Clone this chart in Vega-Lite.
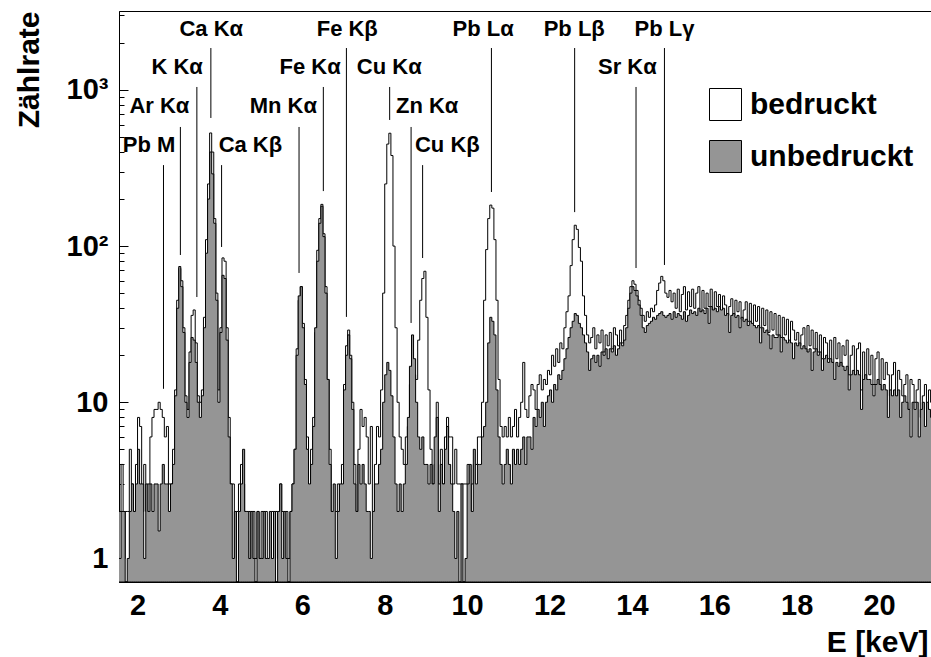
{
"$schema": "https://vega.github.io/schema/vega-lite/v6.json",
"width": 812, "height": 571,
"autosize": "none",
"padding": {"left": 119, "top": 11, "right": 0, "bottom": 75},
"background": "white",
"config": {
 "view": {"stroke": "black", "strokeWidth": 1},
 "font": "Liberation Sans",
 "axis": {"labelFont": "Liberation Sans", "labelFontWeight": "bold", "labelFontSize": 29, "labelColor": "black",
  "titleFont": "Liberation Sans", "titleFontWeight": "bold", "titleFontSize": 30, "titleColor": "black",
  "domainColor": "black", "tickColor": "black", "grid": false, "labelOverlap": false, "labelFlush": false, "labelBound": false}
},
"datasets": {
"spec": [
{"e":1.5,"b":3,"u":4},{"e":1.55,"b":2,"u":1},{"e":1.6,"b":4,"u":2},{"e":1.65,"b":1,"u":2},{"e":1.7,"b":2,"u":0},{"e":1.75,"b":2,"u":1},{"e":1.8,"b":5,"u":2},{"e":1.85,"b":3,"u":3},{"e":1.9,"b":2,"u":2},{"e":1.95,"b":4,"u":3},
{"e":2.0,"b":8,"u":5},{"e":2.05,"b":7,"u":3},{"e":2.1,"b":2,"u":3},{"e":2.15,"b":4,"u":1},{"e":2.2,"b":2,"u":3},{"e":2.25,"b":3,"u":2},{"e":2.3,"b":6,"u":3},{"e":2.35,"b":8,"u":2},{"e":2.4,"b":9,"u":3},{"e":2.45,"b":9,"u":3},
{"e":2.5,"b":10,"u":1.5},{"e":2.55,"b":9,"u":3},{"e":2.6,"b":8,"u":4},{"e":2.65,"b":6,"u":3},{"e":2.7,"b":7,"u":3},{"e":2.75,"b":3,"u":2},{"e":2.8,"b":3,"u":3},{"e":2.85,"b":5,"u":4},{"e":2.9,"b":12,"u":11},{"e":2.95,"b":45,"u":40},
{"e":3.0,"b":72,"u":74},{"e":3.05,"b":60,"u":55},{"e":3.1,"b":30,"u":28},{"e":3.15,"b":11,"u":10},{"e":3.2,"b":9,"u":8},{"e":3.25,"b":21,"u":18},{"e":3.3,"b":36,"u":26},{"e":3.35,"b":39,"u":25},{"e":3.4,"b":24,"u":18},{"e":3.45,"b":11,"u":10},
{"e":3.5,"b":10,"u":8},{"e":3.55,"b":12,"u":11},{"e":3.6,"b":35,"u":30},{"e":3.65,"b":110,"u":90},{"e":3.7,"b":250,"u":200},{"e":3.75,"b":530,"u":400},{"e":3.8,"b":400,"u":290},{"e":3.85,"b":150,"u":140},{"e":3.9,"b":50,"u":45},{"e":3.95,"b":12,"u":10},
{"e":4.0,"b":30,"u":28},{"e":4.05,"b":84,"u":65},{"e":4.1,"b":80,"u":62},{"e":4.15,"b":30,"u":25},{"e":4.2,"b":8,"u":6},{"e":4.25,"b":3,"u":3},{"e":4.3,"b":3,"u":1},{"e":4.35,"b":1,"u":2},{"e":4.4,"b":2,"u":0},{"e":4.45,"b":3,"u":2},
{"e":4.5,"b":4,"u":3},{"e":4.55,"b":3,"u":5},{"e":4.6,"b":2,"u":2},{"e":4.65,"b":1,"u":2},{"e":4.7,"b":2,"u":1},{"e":4.75,"b":1,"u":2},{"e":4.8,"b":2,"u":1},{"e":4.85,"b":1,"u":0},{"e":4.9,"b":2,"u":2},{"e":4.95,"b":1,"u":1},
{"e":5.0,"b":2,"u":1},{"e":5.05,"b":1,"u":2},{"e":5.1,"b":2,"u":1},{"e":5.15,"b":1,"u":1},{"e":5.2,"b":0,"u":2},{"e":5.25,"b":2,"u":1},{"e":5.3,"b":1,"u":2},{"e":5.35,"b":2,"u":0},{"e":5.4,"b":1,"u":2},{"e":5.45,"b":3,"u":3},
{"e":5.5,"b":2,"u":1},{"e":5.55,"b":1,"u":2},{"e":5.6,"b":2,"u":1},{"e":5.65,"b":1,"u":0},{"e":5.7,"b":2,"u":2},{"e":5.75,"b":3,"u":3},{"e":5.8,"b":5,"u":5},{"e":5.85,"b":22,"u":20},{"e":5.9,"b":45,"u":48},{"e":5.95,"b":55,"u":55},
{"e":6.0,"b":32,"u":30},{"e":6.05,"b":14,"u":13},{"e":6.1,"b":6,"u":5},{"e":6.15,"b":2,"u":3},{"e":6.2,"b":5,"u":4},{"e":6.25,"b":8,"u":7},{"e":6.3,"b":28,"u":30},{"e":6.35,"b":94,"u":80},{"e":6.4,"b":150,"u":140},{"e":6.45,"b":185,"u":180},
{"e":6.5,"b":120,"u":115},{"e":6.55,"b":55,"u":50},{"e":6.6,"b":14,"u":14},{"e":6.65,"b":5,"u":4},{"e":6.7,"b":2,"u":2},{"e":6.75,"b":2,"u":3},{"e":6.8,"b":2,"u":1},{"e":6.85,"b":3,"u":2},{"e":6.9,"b":2,"u":3},{"e":6.95,"b":4,"u":3},
{"e":7.0,"b":13,"u":12},{"e":7.05,"b":23,"u":20},{"e":7.1,"b":29,"u":27},{"e":7.15,"b":20,"u":19},{"e":7.2,"b":10,"u":9},{"e":7.25,"b":4,"u":3},{"e":7.3,"b":2,"u":2},{"e":7.35,"b":5,"u":4},{"e":7.4,"b":9,"u":3},{"e":7.45,"b":7,"u":4},
{"e":7.5,"b":8,"u":3},{"e":7.55,"b":6,"u":2},{"e":7.6,"b":3,"u":2},{"e":7.65,"b":7,"u":1},{"e":7.7,"b":2,"u":2},{"e":7.75,"b":4,"u":3},{"e":7.8,"b":7,"u":3},{"e":7.85,"b":6,"u":4},{"e":7.9,"b":12,"u":5},{"e":7.95,"b":50,"u":10},
{"e":8.0,"b":250,"u":15},{"e":8.05,"b":450,"u":18},{"e":8.1,"b":528,"u":16},{"e":8.15,"b":380,"u":11},{"e":8.2,"b":100,"u":6},{"e":8.25,"b":30,"u":3},{"e":8.3,"b":10,"u":2},{"e":8.35,"b":6,"u":3},{"e":8.4,"b":5,"u":2},{"e":8.45,"b":4,"u":3},
{"e":8.5,"b":6,"u":4},{"e":8.55,"b":7,"u":8},{"e":8.6,"b":13,"u":17},{"e":8.65,"b":19,"u":27},{"e":8.7,"b":15,"u":19},{"e":8.75,"b":14,"u":10},{"e":8.8,"b":25,"u":6},{"e":8.85,"b":45,"u":5},{"e":8.9,"b":62,"u":6},{"e":8.95,"b":69,"u":4},
{"e":9.0,"b":35,"u":4},{"e":9.05,"b":12,"u":3},{"e":9.1,"b":5,"u":4},{"e":9.15,"b":3,"u":3},{"e":9.2,"b":4,"u":6},{"e":9.25,"b":10,"u":8},{"e":9.3,"b":3,"u":2},{"e":9.35,"b":5,"u":4},{"e":9.4,"b":3,"u":3},{"e":9.45,"b":6,"u":5},
{"e":9.5,"b":8,"u":7},{"e":9.55,"b":6,"u":4},{"e":9.6,"b":6,"u":3},{"e":9.65,"b":3,"u":2},{"e":9.7,"b":5,"u":1},{"e":9.75,"b":3,"u":2},{"e":9.8,"b":3,"u":0},{"e":9.85,"b":3,"u":3},{"e":9.9,"b":3,"u":0},{"e":9.95,"b":3,"u":1},
{"e":10.0,"b":4,"u":3},{"e":10.05,"b":2,"u":4},{"e":10.1,"b":3,"u":2},{"e":10.15,"b":4,"u":5},{"e":10.2,"b":4,"u":3},{"e":10.25,"b":6,"u":4},{"e":10.3,"b":6,"u":4},{"e":10.35,"b":10,"u":6},{"e":10.4,"b":45,"u":7},{"e":10.45,"b":95,"u":10},
{"e":10.5,"b":150,"u":24},{"e":10.55,"b":183,"u":35},{"e":10.6,"b":175,"u":33},{"e":10.65,"b":110,"u":27},{"e":10.7,"b":45,"u":12},{"e":10.75,"b":14,"u":6},{"e":10.8,"b":7,"u":4},{"e":10.85,"b":6,"u":3},{"e":10.9,"b":7,"u":4},{"e":10.95,"b":6,"u":5},
{"e":11.0,"b":8,"u":4},{"e":11.05,"b":6,"u":3},{"e":11.1,"b":7,"u":5},{"e":11.15,"b":9,"u":4},{"e":11.2,"b":6,"u":5},{"e":11.25,"b":8,"u":4},{"e":11.3,"b":10,"u":5},{"e":11.35,"b":18,"u":6},{"e":11.4,"b":9,"u":4},{"e":11.45,"b":8,"u":6},
{"e":11.5,"b":11,"u":6},{"e":11.55,"b":13,"u":5},{"e":11.6,"b":12,"u":8},{"e":11.65,"b":9,"u":7},{"e":11.7,"b":13,"u":9},{"e":11.75,"b":15,"u":8},{"e":11.8,"b":12,"u":10},{"e":11.85,"b":14,"u":7},{"e":11.9,"b":13,"u":10},{"e":11.95,"b":16,"u":11},
{"e":12.0,"b":15,"u":12},{"e":12.05,"b":20,"u":10},{"e":12.1,"b":17,"u":13},{"e":12.15,"b":22,"u":12},{"e":12.2,"b":18,"u":15},{"e":12.25,"b":24,"u":14},{"e":12.3,"b":22,"u":16},{"e":12.35,"b":30,"u":19},{"e":12.4,"b":38,"u":22},{"e":12.45,"b":48,"u":26},
{"e":12.5,"b":75,"u":30},{"e":12.55,"b":110,"u":33},{"e":12.6,"b":136,"u":37},{"e":12.65,"b":128,"u":36},{"e":12.7,"b":98,"u":32},{"e":12.75,"b":80,"u":30},{"e":12.8,"b":48,"u":27},{"e":12.85,"b":36,"u":24},{"e":12.9,"b":27,"u":21},{"e":12.95,"b":24,"u":16},
{"e":13.0,"b":26,"u":19},{"e":13.05,"b":30,"u":20},{"e":13.1,"b":22,"u":18},{"e":13.15,"b":27,"u":20},{"e":13.2,"b":24,"u":17},{"e":13.25,"b":29,"u":21},{"e":13.3,"b":21,"u":20},{"e":13.35,"b":27,"u":22},{"e":13.4,"b":23,"u":19},{"e":13.45,"b":28,"u":22},
{"e":13.5,"b":22,"u":21},{"e":13.55,"b":30,"u":23},{"e":13.6,"b":27,"u":20},{"e":13.65,"b":23,"u":22},{"e":13.7,"b":29,"u":24},{"e":13.75,"b":24,"u":23},{"e":13.8,"b":31,"u":25},{"e":13.85,"b":36,"u":30},{"e":13.9,"b":45,"u":40},{"e":13.95,"b":55,"u":50},
{"e":14.0,"b":60,"u":55},{"e":14.05,"b":57,"u":52},{"e":14.1,"b":52,"u":48},{"e":14.15,"b":45,"u":42},{"e":14.2,"b":40,"u":36},{"e":14.25,"b":36,"u":30},{"e":14.3,"b":33,"u":28},{"e":14.35,"b":38,"u":31},{"e":14.4,"b":35,"u":32},{"e":14.45,"b":40,"u":33},
{"e":14.5,"b":38,"u":35},{"e":14.55,"b":42,"u":34},{"e":14.6,"b":52,"u":36},{"e":14.65,"b":58,"u":37},{"e":14.7,"b":64,"u":38},{"e":14.75,"b":60,"u":36},{"e":14.8,"b":50,"u":35},{"e":14.85,"b":47,"u":36},{"e":14.9,"b":52,"u":37},{"e":14.95,"b":44,"u":34},
{"e":15.0,"b":50,"u":38},{"e":15.05,"b":40,"u":35},{"e":15.1,"b":53,"u":37},{"e":15.15,"b":38,"u":36},{"e":15.2,"b":49,"u":34},{"e":15.25,"b":55,"u":38},{"e":15.3,"b":39,"u":33},{"e":15.35,"b":51,"u":36},{"e":15.4,"b":41,"u":39},{"e":15.45,"b":53,"u":37},
{"e":15.5,"b":40,"u":38},{"e":15.55,"b":50,"u":36},{"e":15.6,"b":55,"u":40},{"e":15.65,"b":37,"u":38},{"e":15.7,"b":52,"u":39},{"e":15.75,"b":40,"u":37},{"e":15.8,"b":50,"u":40},{"e":15.85,"b":41,"u":32},{"e":15.9,"b":53,"u":41},{"e":15.95,"b":38,"u":39},
{"e":16.0,"b":51,"u":40},{"e":16.05,"b":41,"u":38},{"e":16.1,"b":49,"u":41},{"e":16.15,"b":38,"u":39},{"e":16.2,"b":48,"u":40},{"e":16.25,"b":42,"u":36},{"e":16.3,"b":36,"u":37},{"e":16.35,"b":41,"u":28},{"e":16.4,"b":46,"u":36},{"e":16.45,"b":36,"u":37},
{"e":16.5,"b":45,"u":35},{"e":16.55,"b":38,"u":36},{"e":16.6,"b":44,"u":30},{"e":16.65,"b":34,"u":35},{"e":16.7,"b":39,"u":33},{"e":16.75,"b":44,"u":34},{"e":16.8,"b":33,"u":31},{"e":16.85,"b":43,"u":33},{"e":16.9,"b":31,"u":32},{"e":16.95,"b":42,"u":31},
{"e":17.0,"b":33,"u":30},{"e":17.05,"b":41,"u":31},{"e":17.1,"b":30,"u":24},{"e":17.15,"b":40,"u":30},{"e":17.2,"b":31,"u":28},{"e":17.25,"b":39,"u":29},{"e":17.3,"b":28,"u":27},{"e":17.35,"b":38,"u":22},{"e":17.4,"b":29,"u":27},{"e":17.45,"b":37,"u":26},
{"e":17.5,"b":27,"u":26},{"e":17.55,"b":36,"u":27},{"e":17.6,"b":26,"u":21},{"e":17.65,"b":35,"u":26},{"e":17.7,"b":27,"u":25},{"e":17.75,"b":34,"u":24},{"e":17.8,"b":24,"u":25},{"e":17.85,"b":33,"u":24},{"e":17.9,"b":29,"u":19},{"e":17.95,"b":25,"u":24},
{"e":18.0,"b":28,"u":23},{"e":18.05,"b":23,"u":24},{"e":18.1,"b":27,"u":22},{"e":18.15,"b":30,"u":23},{"e":18.2,"b":21,"u":22},{"e":18.25,"b":31,"u":21},{"e":18.3,"b":23,"u":22},{"e":18.35,"b":29,"u":16},{"e":18.4,"b":22,"u":21},{"e":18.45,"b":28,"u":22},
{"e":18.5,"b":21,"u":20},{"e":18.55,"b":27,"u":21},{"e":18.6,"b":19,"u":16},{"e":18.65,"b":26,"u":19},{"e":18.7,"b":24,"u":20},{"e":18.75,"b":19,"u":18},{"e":18.8,"b":25,"u":19},{"e":18.85,"b":18,"u":18},{"e":18.9,"b":26,"u":14},{"e":18.95,"b":19,"u":18},
{"e":19.0,"b":24,"u":17},{"e":19.05,"b":17,"u":18},{"e":19.1,"b":23,"u":17},{"e":19.15,"b":20,"u":16},{"e":19.2,"b":25,"u":17},{"e":19.25,"b":15,"u":12},{"e":19.3,"b":20,"u":15},{"e":19.35,"b":23,"u":16},{"e":19.4,"b":14,"u":15},{"e":19.45,"b":22,"u":16},
{"e":19.5,"b":24,"u":15},{"e":19.55,"b":12,"u":9},{"e":19.6,"b":21,"u":14},{"e":19.65,"b":14,"u":15},{"e":19.7,"b":22,"u":14},{"e":19.75,"b":15,"u":14},{"e":19.8,"b":20,"u":13},{"e":19.85,"b":13,"u":11},{"e":19.9,"b":19,"u":13},{"e":19.95,"b":21,"u":14},
{"e":20.0,"b":12,"u":13},{"e":20.05,"b":19,"u":12},{"e":20.1,"b":14,"u":13},{"e":20.15,"b":18,"u":12},{"e":20.2,"b":15,"u":8},{"e":20.25,"b":11,"u":12},{"e":20.3,"b":15,"u":11},{"e":20.35,"b":18,"u":12},{"e":20.4,"b":10,"u":11},{"e":20.45,"b":16,"u":12},
{"e":20.5,"b":14,"u":8},{"e":20.55,"b":11,"u":10},{"e":20.6,"b":13,"u":11},{"e":20.65,"b":15,"u":10},{"e":20.7,"b":9,"u":9},{"e":20.75,"b":14,"u":6},{"e":20.8,"b":13,"u":10},{"e":20.85,"b":10,"u":9},{"e":20.9,"b":12,"u":10},{"e":20.95,"b":14,"u":6},
{"e":21.0,"b":8,"u":9},{"e":21.05,"b":11,"u":10},{"e":21.1,"b":13,"u":7},{"e":21.15,"b":9,"u":10},{"e":21.2,"b":12,"u":9},{"e":21.25,"b":10,"u":8},{"e":21.3,"b":10,"u":8}
],
"lines": [
{"name":"Pb M","e":2.63,"lx":2.28,"ly":444,"top":330,"bot":12.2},
{"name":"Ar Kα","e":3.04,"lx":2.53,"ly":789,"top":579,"bot":87.7},
{"name":"K Kα","e":3.44,"lx":2.96,"ly":1402,"top":1044,"bot":47.2},
{"name":"Ca Kα","e":3.78,"lx":3.79,"ly":2455,"top":1854,"bot":661},
{"name":"Ca Kβ","e":4.04,"lx":4.74,"ly":444,"top":330,"bot":98.7},
{"name":"Mn Kα","e":5.92,"lx":5.54,"ly":789,"top":579,"bot":67.3},
{"name":"Fe Kα","e":6.51,"lx":6.19,"ly":1402,"top":1044,"bot":225},
{"name":"Fe Kβ","e":7.07,"lx":7.09,"ly":2455,"top":1854,"bot":35.2},
{"name":"Cu Kα","e":8.12,"lx":8.11,"ly":1402,"top":1044,"bot":642},
{"name":"Zn Kα","e":8.64,"lx":9.03,"ly":789,"top":579,"bot":32.2},
{"name":"Cu Kβ","e":8.92,"lx":9.52,"ly":444,"top":330,"bot":83.9},
{"name":"Pb Lα","e":10.59,"lx":10.39,"ly":2455,"top":1854,"bot":222},
{"name":"Pb Lβ","e":12.61,"lx":12.6,"ly":2455,"top":1854,"bot":165},
{"name":"Sr Kα","e":14.1,"lx":13.89,"ly":1402,"top":1044,"bot":72.4},
{"name":"Pb Lγ","e":14.79,"lx":14.79,"ly":2455,"top":1854,"bot":75.7}
]
},
"layer": [
{
 "data": {"name": "spec"},
 "transform": [{"fold": ["b", "u"], "as": ["k", "v"]}],
 "mark": {"type": "area", "interpolate": "step-after", "stroke": "black", "strokeWidth": 1, "clip": true},
 "encoding": {
  "x": {"field": "e", "type": "quantitative",
   "scale": {"domain": [1.55, 21.26], "nice": false, "zero": false},
   "axis": {"values": [2,2.5,3,3.5,4,4.5,5,5.5,6,6.5,7,7.5,8,8.5,9,9.5,10,10.5,11,11.5,12,12.5,13,13.5,14,14.5,15,15.5,16,16.5,17,17.5,18,18.5,19,19.5,20,20.5,21],
    "labelExpr": "datum.value % 2 == 0 ? format(datum.value, 'd') : ''",
    "tickSize": {"condition": {"test": "datum.value % 2 == 0", "value": -8}, "value": -4},
    "labelPadding": 17,
    "title": "E [keV]", "titleAnchor": "end", "titleAlign": "right", "titleBaseline": "middle", "titleX": 809, "titleY": 60}},
  "y": {"field": "v", "type": "quantitative", "stack": null,
   "scale": {"type": "log", "domain": [0.707, 3200], "nice": false, "clamp": true},
   "axis": {"values": [0.8,0.9,1,2,3,4,5,6,7,8,9,10,20,30,40,50,60,70,80,90,100,200,300,400,500,600,700,800,900,1000,2000,3000],
    "labelExpr": "datum.value == 1000 ? '10³' : datum.value == 100 ? '10²' : datum.value == 10 ? '10' : datum.value == 1 ? '1' : ''",
    "tickSize": {"condition": {"test": "datum.value == 1 || datum.value == 10 || datum.value == 100 || datum.value == 1000", "value": -9}, "value": -5},
    "labelPadding": 20,
    "title": "Zählrate", "titleAngle": -90, "titleAlign": "right", "titleBaseline": "middle", "titleX": -90, "titleY": 0}},
  "fill": {"field": "k", "type": "nominal",
   "scale": {"domain": ["b", "u"], "range": ["white", "#959595"]},
   "legend": {"orient": "none", "legendX": 590, "legendY": 77, "title": null, "symbolType": "square", "symbolSize": 1024,
    "symbolStrokeColor": "black", "symbolStrokeWidth": 1, "symbolOpacity": 1, "labelFont": "Liberation Sans", "labelFontWeight": "bold",
    "labelFontSize": 30, "labelColor": "black", "labelOffset": 8, "rowPadding": 15, "padding": 0, "labelLimit": 0,
    "labelExpr": "datum.value == 'b' ? 'bedruckt' : 'unbedruckt'"}}
 }
},
{
 "data": {"name": "lines"},
 "mark": {"type": "rule", "color": "black", "strokeWidth": 1},
 "encoding": {
  "x": {"field": "e", "type": "quantitative"},
  "y": {"field": "top", "type": "quantitative"},
  "y2": {"field": "bot"}
 }
},
{
 "data": {"name": "lines"},
 "mark": {"type": "text", "font": "Liberation Sans", "fontWeight": "bold", "fontSize": 22, "align": "center", "baseline": "middle", "color": "black"},
 "encoding": {
  "x": {"field": "lx", "type": "quantitative"},
  "y": {"field": "ly", "type": "quantitative"},
  "text": {"field": "name"}
 }
}
]
}
